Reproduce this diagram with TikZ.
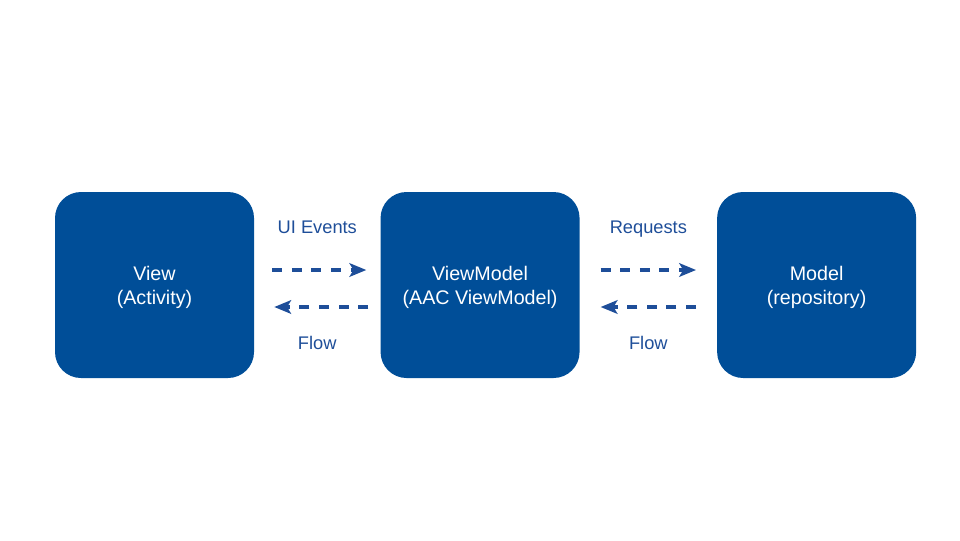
\documentclass[tikz,border=0pt]{standalone}
\usepackage{fontspec}
\setmainfont{Liberation Sans}
\usepackage{xcolor}
\usetikzlibrary{positioning,arrows.meta,calc}

\definecolor{boxblue}{RGB}{0,78,152}
\definecolor{lineblue}{RGB}{30,78,153}

\begin{document}
\begin{tikzpicture}[
			node distance=1cm and 1cm,
			every node/.style={font=\fontsize{14}{17}\selectfont},
			layer/.style={rectangle, fill=boxblue, rounded corners=0.65cm, minimum width=4.975cm, minimum height=4.65cm, text=white, align=center, text depth=0pt},
			label/.style={text=lineblue, anchor=base, font=\fontsize{13}{16}\selectfont},
			flow/.style={-{Stealth[length=0.42cm, width=0.34cm, inset=0.1cm]}, line width=2.2pt, lineblue, dash pattern=on 0.25cm off 0.24cm}
		]
		\useasboundingbox (0,0) rectangle (24,-13.5);

		\node (view) [layer] at (3.8625,-7.125) {View\\(Activity)};
		\node (vm) [layer, right=3.15cm of view] {ViewModel\\(AAC ViewModel)};
		\node (model) [layer, right=3.425cm of vm] {Model\\(repository)};

		% arrows between layers
		\draw[flow, shorten <=0.45cm, shorten >=0.35cm] ([yshift=0.375cm]view.east) -- ([yshift=0.375cm]vm.west);
		\draw[flow, shorten <=0.3cm, shorten >=0.5cm] ([yshift=-0.55cm]vm.west) -- ([yshift=-0.55cm]view.east);
		\draw[flow, shorten <=0.52cm, shorten >=0.52cm] ([yshift=0.375cm]vm.east) -- ([yshift=0.375cm]model.west);
		\draw[flow, shorten <=0.52cm, shorten >=0.52cm] ([yshift=-0.55cm]model.west) -- ([yshift=-0.55cm]vm.east);

		% labels
		\node[label] (uiev) at ($(view.east)!0.5!(vm.west)+(0,1.29)$) {UI Events};
		\node[label] (flowa) at ($(view.east)!0.5!(vm.west)+(0,-1.61)$) {Flow};
		\node[label] (req) at ($(vm.east)!0.5!(model.west)+(0,1.29)$) {Requests};
		\node[label] (flowb) at ($(vm.east)!0.5!(model.west)+(0,-1.61)$) {Flow};
	\end{tikzpicture}
\end{document}
